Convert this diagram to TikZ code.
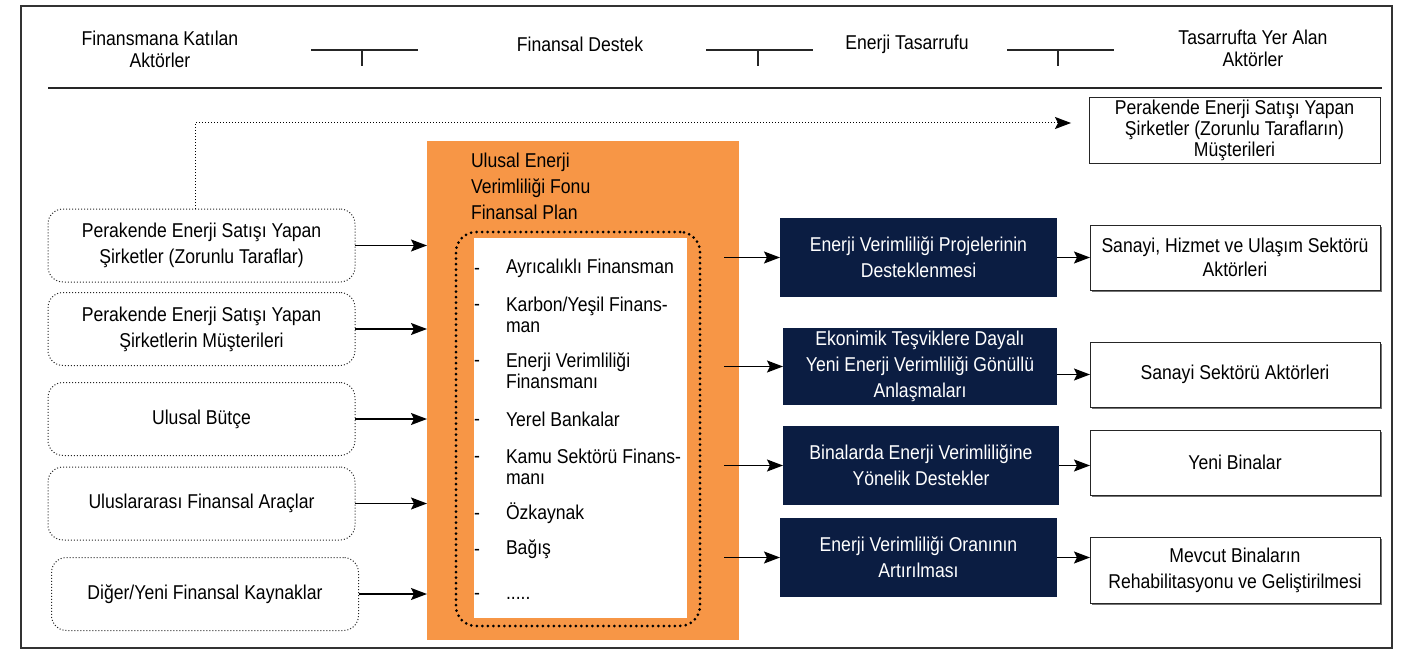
\documentclass[tikz,border=0pt]{standalone}
\usepackage{fontspec}
\setmainfont{Liberation Sans}[FakeStretch=0.88]
\usetikzlibrary{arrows.meta,shadows,calc}
\definecolor{fundorange}{HTML}{F79646}
\definecolor{navy}{HTML}{0B1D42}
\begin{document}
\begin{tikzpicture}[x=1pt,y=-1pt,
  every node/.style={inner sep=0pt, outer sep=0pt},
  base/.style={font=\fontsize{20}{26}\selectfont, align=center},
  hdr/.style={base, font=\fontsize{20}{22}\selectfont},
  srcbox/.style={base, draw=black!85, dotted, line width=1pt, rounded corners=15pt, minimum width=307pt, minimum height=73pt},
  navybox/.style={base, fill=navy, text=white, minimum width=277pt, minimum height=79pt},
  actbox/.style={base, draw=black!85, line width=1pt, fill=white, minimum width=290pt, minimum height=65pt, drop shadow={shadow xshift=2pt, shadow yshift=-2pt, fill=black!55, opacity=1}},
  item/.style={base, font=\fontsize{20}{21}\selectfont, align=left, anchor=west},
  dashmark/.style={base},
  arr/.style={line width=1.3pt, -{Stealth[length=16pt,width=12pt,inset=3pt]}},
  rule/.style={line width=1.2pt, draw=black!85}]
\useasboundingbox (0,0) rectangle (1421,650);
% frame
\draw[line width=1.5pt, draw=black!80] (21,6) rectangle (1392,648);
% header
\node[hdr] (hA) at (160,49) {Finansmana Katılan\\Aktörler};
\node[hdr] (hB) at (580,44) {Finansal Destek};
\node[hdr] (hC) at (907,44) {Enerji Tasarrufu};
\node[hdr] (hD) at (1253,48) {Tasarrufta Yer Alan\\Aktörler};
\draw[rule] (311,50) -- (418,50) (362,50) -- (362,66);
\draw[rule] (706,50) -- (813,50) (758,50) -- (758,66);
\draw[rule] (1007,50) -- (1114,50) (1058,50) -- (1058,66);
\draw[rule] (48,88) -- (1382,88);
% source boxes
\node[srcbox] (L1) at (201.5,245.5) {Perakende Enerji Satışı Yapan\\Şirketler (Zorunlu Taraflar)};
\node[srcbox] (L2) at (201.5,329) {Perakende Enerji Satışı Yapan\\Şirketlerin Müşterileri};
\node[srcbox] (L3) at (201.5,419) {Ulusal Bütçe};
\node[srcbox] (L4) at (201.5,503.5) {Uluslararası Finansal Araçlar};
\node[srcbox] (L5) at (205,594) {Diğer/Yeni Finansal Kaynaklar};
% fund
\node[fill=fundorange, minimum width=312pt, minimum height=499pt] (O) at (583,390.5) {};
\node[fill=white, minimum width=213pt, minimum height=380pt] (W) at (580.5,428) {};
\node[draw=black, line width=3pt, dash pattern=on 0pt off 5.5pt, line cap=round, rounded corners=20pt, minimum width=244pt, minimum height=394pt] (D) at (578,429) {};
\node[base, align=left, anchor=north west] (T) at (471,153) {Ulusal Enerji\\Verimliliği Fonu\\Finansal Plan};
\node[item] (i1) at (506,268) {Ayrıcalıklı Finansman};
\node[item] (i2) at (506,314.5) {Karbon/Yeşil Finans-\\man};
\node[item] (i3) at (506,370.5) {Enerji Verimliliği\\Finansmanı};
\node[item] (i4) at (506,419) {Yerel Bankalar};
\node[item] (i5) at (506,466.5) {Kamu Sektörü Finans-\\manı};
\node[item] (i6) at (506,513) {Özkaynak};
\node[item] (i7) at (506,549) {Bağış};
\node[item, anchor=base west] (i8) at (506,599) {.....};
\foreach \y/\n in {268/1,304/2,360/3,419/4,456/5,513/6,549/7,593/8}
  \node[dashmark] (d\n) at (477,\y+3) {-};
% target box top
\node[base, font=\fontsize{20}{21}\selectfont, draw=black!85, line width=1pt, minimum width=291pt, minimum height=65pt] (TR) at (1234.5,130.5) {Perakende Enerji Satışı Yapan\\Şirketler (Zorunlu Tarafların)\\Müşterileri};
% navy boxes
\node[navybox] (B1) at (918.5,257.5) {Enerji Verimliliği Projelerinin\\Desteklenmesi};
\node[navybox, minimum width=274pt, minimum height=77pt] (B2) at (920,366.5) {Ekonimik Teşviklere Dayalı\\Yeni Enerji Verimliliği Gönüllü\\Anlaşmaları};
\node[navybox, minimum width=276pt] (B3) at (921,465.5) {Binalarda Enerji Verimliliğine\\Yönelik Destekler};
\node[navybox] (B4) at (918.5,557.5) {Enerji Verimliliği Oranının\\Artırılması};
% actor boxes
\node[actbox, font=\fontsize{20}{24}\selectfont] (R1) at (1235,257.5) {Sanayi, Hizmet ve Ulaşım Sektörü\\Aktörleri};
\node[actbox] (R2) at (1235,374.5) {Sanayi Sektörü Aktörleri};
\node[actbox] (R3) at (1235,462.5) {Yeni Binalar};
\node[actbox, minimum height=66pt] (R4) at (1235,570) {Mevcut Binaların\\Rehabilitasyonu ve Geliştirilmesi};
% arrows
\foreach \n in {1,...,5}
  \draw[arr] (L\n.east) -- (L\n.east -| O.west);
\coordinate (oR) at (724,0);
\foreach \n in {1,...,4}
  \draw[arr] (oR |- B\n.west) -- (B\n.west);
\draw[arr] (B1.east) -- (B1.east -| R1.west);
\draw[arr] (B2.east |- R2.west) -- (R2.west);
\draw[arr] (B3.east) -- (B3.east -| R3.west);
\draw[arr] (B4.east) -- (B4.east -| R4.west);
\coordinate (trIn) at (1071,123);
\draw[dotted, line width=1pt, draw=black, -{Stealth[length=16pt,width=12pt,inset=3pt]}] ([xshift=-6.5pt]L1.north) |- (trIn);
\end{tikzpicture}
\end{document}
